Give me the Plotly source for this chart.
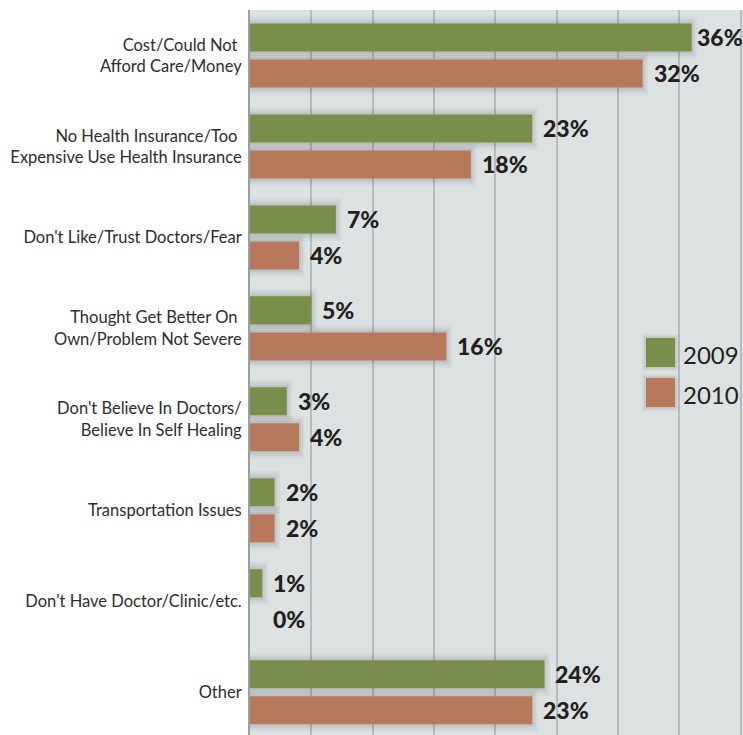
import plotly.graph_objects as go

# Reasons for not seeking care, share of respondents (%)
categories = [
    "Cost/Could Not&nbsp;<br>Afford Care/Money",
    "No Health Insurance/Too&nbsp;<br>Expensive Use Health Insurance",
    "Don't Like/Trust Doctors/Fear",
    "Thought Get Better On&nbsp;<br>Own/Problem Not Severe",
    "Don't Believe In Doctors/<br>Believe In Self Healing",
    "Transportation Issues",
    "Don't Have Doctor/Clinic/etc.",
    "Other",
]
values_2009 = [36, 23, 7, 5, 3, 2, 1, 24]
values_2010 = [32, 18, 4, 16, 4, 2, 0, 23]
series_names = ["2009", "2010"]

GREEN = "#7b8d4a"
ORANGE = "#b8785b"
BG = "#dbe2e1"
GRID = "#b6bbbb"
TEXT = "#231f20"
LABEL = "#2e2c2d"

W, H = 743, 735
ML, MT = 250, 10
plot_w, plot_h = W - ML, H - MT
px_per_unit = 12.27
x_max = plot_w / px_per_unit

ypos = list(range(len(categories)))
bar_w = 0.308              # bar thickness in category units
offsets = [-0.352, 0.044]  # start of each series' bar relative to category centre

fig = go.Figure()

# soft drop shadow drawn behind each bar
for vals, off in zip([values_2009, values_2010], offsets):
    for grow, dx, alpha in [(0.08, 0.45, 0.045), (0.05, 0.28, 0.055), (0.025, 0.12, 0.065)]:
        fig.add_trace(go.Bar(
            y=ypos, x=[v + dx if v > 0 else 0 for v in vals], orientation="h",
            width=bar_w + 2 * grow, offset=off - grow,
            marker=dict(color=f"rgba(40,40,40,{alpha})", line=dict(width=0)),
            hoverinfo="skip", showlegend=False,
        ))

for vals, off, col, name in zip([values_2009, values_2010], offsets, [GREEN, ORANGE], series_names):
    fig.add_trace(go.Bar(
        y=ypos, x=vals, orientation="h", name=name,
        width=bar_w, offset=off,
        marker=dict(color=col, line=dict(width=0)),
        showlegend=False,
    ))

# value labels to the right of each bar
LABEL_W = 48  # approx. rendered width of a "36%" label, px
annotations = []
for i in ypos:
    pair = [values_2009[i], values_2010[i]]
    for v, off in zip(pair, offsets):
        anchor_x = v if v > 0 else max(pair)
        room = (x_max - anchor_x) * px_per_unit
        shift = max(2, min(9, room - LABEL_W))
        annotations.append(dict(
            x=anchor_x, y=i + off + bar_w / 2, xref="x", yref="y",
            text=f"{v}%", showarrow=False, xanchor="left", yanchor="middle",
            xshift=shift, font=dict(family="Lato", size=23, color=TEXT, weight=900),
        ))

# legend (large swatches)
def px_to_paper(px, py):
    return (px - ML) / plot_w, 1 - (py - MT) / plot_h

shapes = []
for k, (col, name) in enumerate(zip([GREEN, ORANGE], series_names)):
    top = 338 + k * 40
    for grow, alpha in [(4, 0.05), (2, 0.07)]:
        x0, y0 = px_to_paper(646 - grow, top - grow)
        x1, y1 = px_to_paper(675 + grow, top + 29 + grow)
        shapes.append(dict(type="rect", xref="paper", yref="paper",
                           x0=x0, x1=x1, y0=y1, y1=y0,
                           fillcolor=f"rgba(40,40,40,{alpha})", line=dict(width=0), layer="above"))
    x0, y0 = px_to_paper(646, top)
    x1, y1 = px_to_paper(675, top + 29)
    shapes.append(dict(type="rect", xref="paper", yref="paper",
                       x0=x0, x1=x1, y0=y1, y1=y0,
                       fillcolor=col, line=dict(width=0), layer="above"))
    tx, ty = px_to_paper(681, top + 16)
    annotations.append(dict(
        x=tx, y=ty, xref="paper", yref="paper", text=name, showarrow=False,
        xanchor="left", yanchor="middle",
        font=dict(family="Lato", size=24, color=TEXT),
    ))

fig.update_layout(
    width=W, height=H,
    margin=dict(l=ML, r=0, t=MT, b=0),
    paper_bgcolor="white", plot_bgcolor=BG,
    barmode="overlay",
    annotations=annotations, shapes=shapes,
    xaxis=dict(range=[0, x_max], dtick=5, tick0=0, showticklabels=False,
               showgrid=True, gridcolor=GRID, gridwidth=2, zeroline=False,
               showline=False, fixedrange=True),
    yaxis=dict(tickmode="array", tickvals=ypos, ticktext=categories,
               range=[7.47, -0.5], showgrid=False, zeroline=False,
               showline=True, linecolor="#9c9f9f", linewidth=2,
               ticks="", ticklabelstandoff=3,
               tickfont=dict(family="Lato", size=16.5, color=LABEL)),
    font=dict(family="Lato"),
)

fig.write_html("out.html")
